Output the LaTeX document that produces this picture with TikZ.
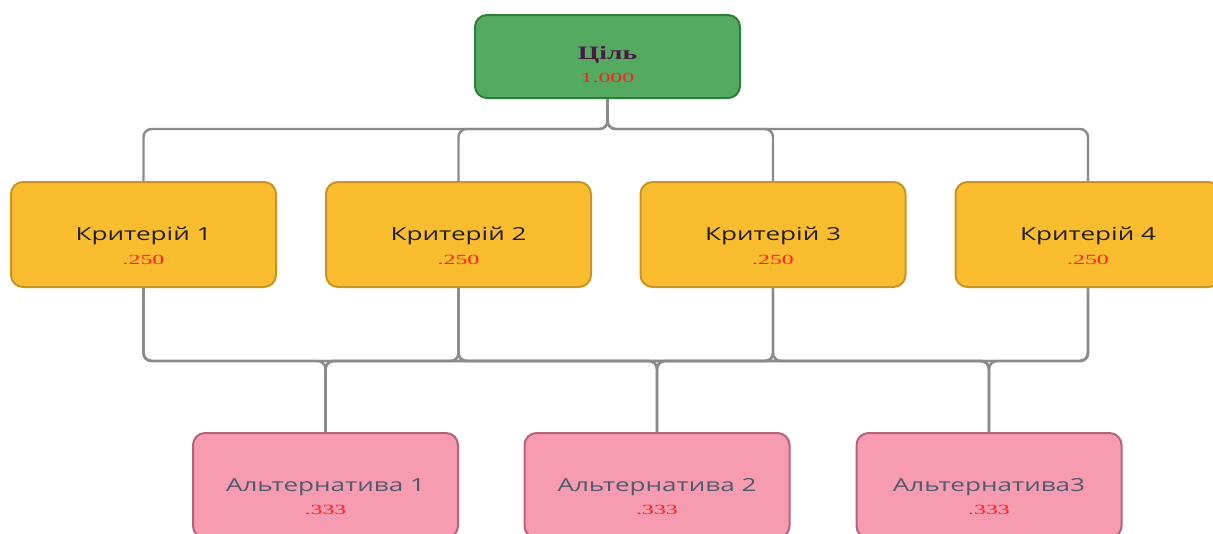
\documentclass[tikz,border=0pt]{standalone}
\usepackage{fontspec}
\setmainfont{Liberation Serif}
\newfontfamily\labelfont[FakeStretch=1.45]{Open Sans}
\newfontfamily\valuefont[FakeStretch=1.7]{Liberation Serif}
\newfontfamily\goalfont[FakeStretch=1.45]{Liberation Serif}
\usetikzlibrary{positioning,calc}
\definecolor{ahpgreen}{HTML}{55AA62}
\definecolor{ahpgreenedge}{HTML}{2F7D3B}
\definecolor{ahpyellow}{HTML}{FBBD30}
\definecolor{ahpyellowedge}{HTML}{C9951E}
\definecolor{ahppink}{HTML}{F79BB0}
\definecolor{ahppinkedge}{HTML}{B5637A}
\definecolor{ahpred}{HTML}{FF2020}
\definecolor{ahpplum}{HTML}{4A1942}
\definecolor{ahpslate}{HTML}{505A6E}
\definecolor{ahpwire}{HTML}{8A8A8A}
\tikzset{
  box/.style={rounded corners=12pt,line width=2pt,minimum width=265pt,inner sep=0pt},
  goalbox/.style={box,fill=ahpgreen,draw=ahpgreenedge,minimum height=83pt},
  critbox/.style={box,fill=ahpyellow,draw=ahpyellowedge,minimum height=105pt},
  altbox/.style={box,fill=ahppink,draw=ahppinkedge,minimum height=105pt},
  goaltxt/.style={inner sep=0pt,text=ahpplum,font=\goalfont\bfseries\fontsize{19}{21}\selectfont},
  crittxt/.style={inner sep=0pt,text=black!88,font=\labelfont\fontsize{18}{21}\selectfont},
  alttxt/.style={crittxt,text=ahpslate},
  valtxt/.style={inner sep=0pt,text=ahpred,font=\valuefont\fontsize{14}{16}\selectfont},
  wire/.style={draw=ahpwire,line width=2.4pt,rounded corners=8pt},
}

\begin{document}
\begin{tikzpicture}[x=1pt,y=-1pt]
  \useasboundingbox (0,0) rectangle (1213,533);
  \clip (0,0) rectangle (1213,533);

  \node[goalbox] (goal) at (607.5,56.5) {};
  \node[critbox] (k1) at (143.5,234.5) {};
  \node[critbox] (k2) at (458.5,234.5) {};
  \node[critbox] (k3) at (773,234.5) {};
  \node[critbox] (k4) at (1088,234.5) {};
  \node[altbox] (a1) at (325.5,485.5) {};
  \node[altbox] (a2) at (657,485.5) {};
  \node[altbox] (a3) at (989,485.5) {};

  % connectors
  \foreach \k in {k1,k2,k3,k4}
    \draw[wire] (goal.south) -- ++(0,30) -| (\k.north);
  \foreach \k in {k1,k2,k3,k4}
    \foreach \a in {a1,a2,a3}
      \draw[wire] (\k.south) -- ++(0,73) -| (\a.north);

  % texts
  \node[goaltxt] (goalname) at ([yshift=1.5pt]goal.center) {Ціль};
  \node[valtxt] (goalval) at ([yshift=-21.5pt]goal.center) {1.000};
  \foreach \k/\n in {k1/1,k2/2,k3/3,k4/4} {
    \node[crittxt] (\k name) at ([yshift=-1.5pt]\k.center) {Критерій \n};
    \node[valtxt] (\k val) at ([yshift=-25pt]\k.center) {.250};
  }
  \node[alttxt] (a1name) at ([yshift=-1.5pt]a1.center) {Альтернатива 1};
  \node[alttxt] (a2name) at ([yshift=-1.5pt]a2.center) {Альтернатива 2};
  \node[alttxt] (a3name) at ([yshift=-1.5pt]a3.center) {Альтернатива3};
  \foreach \a in {a1,a2,a3}
    \node[valtxt] (\a val) at ([yshift=-24pt]\a.center) {.333};
\end{tikzpicture}
\end{document}
